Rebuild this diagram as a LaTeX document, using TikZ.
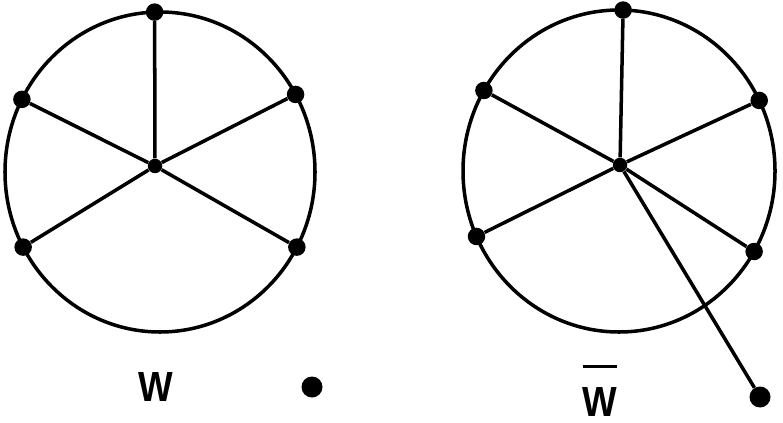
\documentclass[tikz,border=0pt]{standalone}
\usepackage{fontspec}
\setsansfont{Liberation Sans}
\usetikzlibrary{positioning}

\begin{document}
\begin{tikzpicture}[x=0.02cm, y=0.02cm,
        rim/.style={line width=2pt},
        spoke/.style={line width=2pt},
        vertex/.style={circle, fill, inner sep=0pt, minimum size=0.35cm},
        hub/.style={circle, fill, inner sep=0pt, minimum size=0.29cm},
        lone/.style={circle, fill, inner sep=0pt, minimum size=0.42cm},
        gname/.style={font=\fontsize{24}{24}\selectfont\sffamily\bfseries, xscale=0.87, inner sep=0pt, align=center}
    ]
        \useasboundingbox (0,0) rectangle (783,-422);

        % === Wheel W ===
        \coordinate (c1) at (160,-172);
        \draw[rim] (c1) ellipse [x radius=155, y radius=160];
        \node[hub] (h1) at (155,-166) {};
        \foreach \a/\n in {92/t, 153/ul, 29/ur, 208/ll, 332/lr}
            \node[vertex] (\n1) at ([shift={(\a:155 and 160)}]c1) {};
        \foreach \n in {t, ul, ur, ll, lr}
            \draw[spoke] (h1) -- (\n1);

        \node[gname] (w1) at (156,-387) {W};
        \node[lone] (p1) at (312,-387) {};

        % === Complement W-bar ===
        \coordinate (c2) at (619,-171);
        \draw[rim] (c2) ellipse [x radius=156, y radius=161];
        \node[hub] (h2) at (620,-165) {};
        \foreach \a/\n in {88.5/t, 150/ul, 26/ur, 204/ll, 330/lr}
            \node[vertex] (\n2) at ([shift={(\a:156 and 161)}]c2) {};
        \foreach \n in {t, ul, ur, ll, lr}
            \draw[spoke] (h2) -- (\n2);

        % pendant vertex
        \node[lone] (p2) at (760,-397) {};
        \draw[spoke] (h2) -- (p2);

        \node[gname] (w2) at (600,-391) {\rule{0.8cm}{0.06cm}\\[3.7pt]W};

    \end{tikzpicture}
\end{document}
